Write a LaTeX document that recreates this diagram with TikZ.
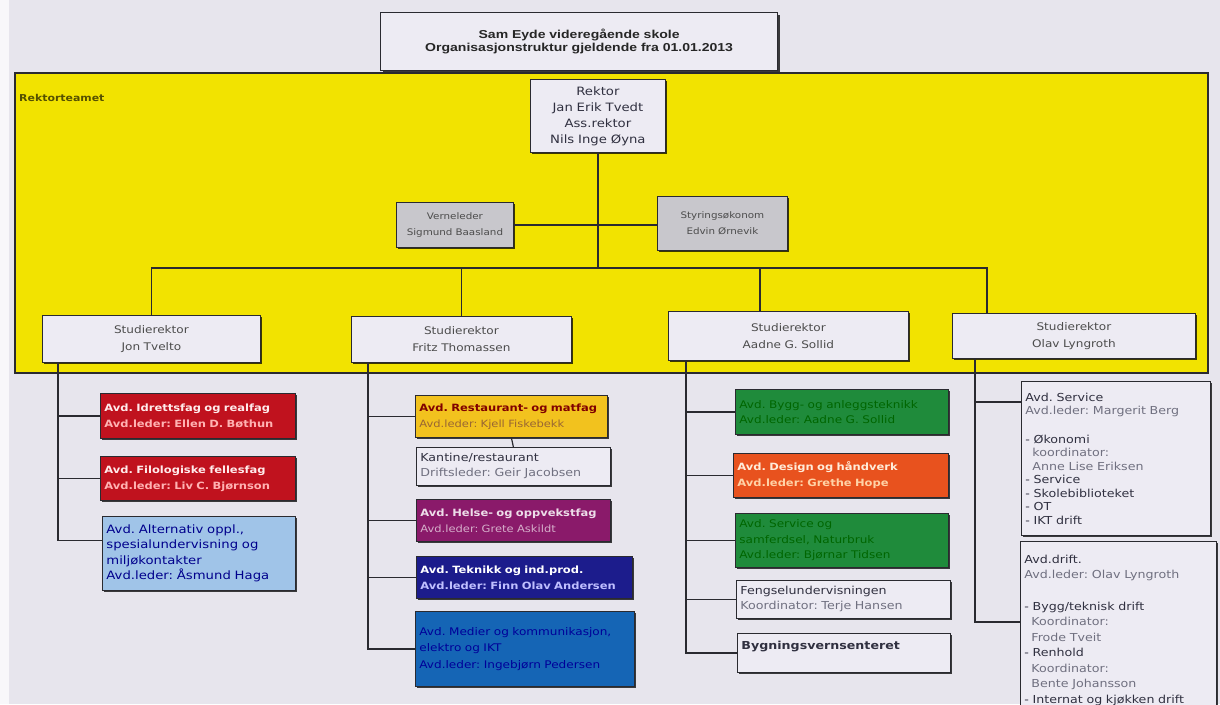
\documentclass[tikz,border=0pt]{standalone}
\usepackage{fontspec}
\setmainfont{DejaVu Sans}[FakeStretch=1.15]
\newfontfamily\titlefont{Liberation Sans}[FakeStretch=1.22]
\usetikzlibrary{shadows}
\frenchspacing
\definecolor{bgc}{HTML}{E7E5ED}
\definecolor{boxc}{HTML}{EDEBF3}
\definecolor{yel}{HTML}{F2E300}
\definecolor{grayc}{HTML}{C8C7CC}
\definecolor{redc}{HTML}{C0121E}
\definecolor{lblue}{HTML}{A0C4E8}
\definecolor{gold}{HTML}{F2C21E}
\definecolor{purp}{HTML}{8A1A6A}
\definecolor{dblue}{HTML}{1C1C8C}
\definecolor{mblue}{HTML}{1565B5}
\definecolor{greenc}{HTML}{1F8B3B}
\definecolor{orangec}{HTML}{E8521E}
\definecolor{tdark}{HTML}{303040}
\definecolor{tgray}{HTML}{707080}
\definecolor{lineb}{HTML}{2A2A30}
\begin{document}
\begin{tikzpicture}[x=1pt,y=-1pt,
  box/.style={draw=lineb, line width=0.8pt, rectangle, anchor=north west,
    inner xsep=4pt, inner ysep=2pt, align=left, fill=boxc, text=tdark,
    font=\fontsize{11}{15}\selectfont,
    drop shadow={shadow xshift=2pt, shadow yshift=-2pt, fill=black, opacity=0.75}},
  cbox/.style={box, align=center},
  colbox/.style={box, font=\bfseries\fontsize{10}{16}\selectfont},
  sr/.style={cbox, text=black!70, font=\fontsize{10.5}{17}\selectfont},
  conn/.style={draw=lineb, line width=1.2pt}]
\useasboundingbox (0,0) rectangle (1220,704);
\clip (0,0) rectangle (1220,704);
\fill[bgc] (0,0) rectangle (1220,704);
\fill[white!70!bgc] (0,0) rectangle (9,704);

% title
\node[cbox, line width=1.2pt, minimum width=397, minimum height=58, text width=389,
  font=\titlefont\bfseries\fontsize{11.5}{13}\selectfont, text=black!85] (title) at (380,12)
  {Sam Eyde videregående skole\\Organisasjonstruktur gjeldende fra 01.01.2013};

% rektorteam area
\node[draw=lineb, line width=1.5pt, fill=yel, anchor=north west, minimum width=1193,
  minimum height=300, drop shadow={shadow xshift=1.5pt, shadow yshift=-1.5pt, fill=black, opacity=0.6}] (team) at (14,72) {};
\node[anchor=west, inner sep=0pt, text=black!65!yel, font=\bfseries\fontsize{9.5}{11}\selectfont] (teamlbl) at (19,98) {Rektorteamet};

\node[cbox, minimum width=135, minimum height=73, text width=127,
  font=\fontsize{11.5}{16}\selectfont] (rektor) at (530,79)
  {Rektor\\Jan Erik Tvedt\\Ass.rektor\\Nils Inge Øyna};

\node[cbox, fill=grayc, minimum width=117, minimum height=45, text width=109, text=black!70,
  font=\fontsize{9}{16}\selectfont] (ver) at (396,202)
  {Verneleder\\Sigmund Baasland};
\node[cbox, fill=grayc, minimum width=130, minimum height=54, text width=122, text=black!70,
  font=\fontsize{9}{16}\selectfont] (sty) at (657,196)
  {Styringsøkonom\\Edvin Ørnevik};

\node[sr, minimum width=218, minimum height=47, text width=210] (jon) at (42,315)
  {Studierektor\\Jon Tvelto};
\node[sr, minimum width=220, minimum height=46, text width=212] (fritz) at (351,316)
  {Studierektor\\Fritz Thomassen};
\node[sr, minimum width=240, minimum height=49, text width=232] (aadne) at (668,311)
  {Studierektor\\Aadne G. Sollid};
\node[sr, minimum width=243, minimum height=45, text width=235] (olav) at (952,313)
  {Studierektor\\Olav Lyngroth};

% column 1
\node[colbox, fill=redc, minimum width=195, minimum height=45, text width=187] (red1) at (100,393)
  {{\color{red!8}Avd. Idrettsfag og realfag}\\{\color{red!30}Avd.leder: Ellen D. Bøthun}};
\node[colbox, fill=redc, minimum width=195, minimum height=44, text width=187] (red2) at (100,456)
  {{\color{red!8}Avd. Filologiske fellesfag}\\{\color{red!30}Avd.leder: Liv C. Bjørnson}};
\node[box, fill=lblue, minimum width=193, minimum height=74, text width=185, text=blue!55!black,
  font=\fontsize{11.5}{15.5}\selectfont] (lb) at (102,516)
  {Avd. Alternativ oppl.,\\spesialundervisning og\\miljøkontakter\\Avd.leder: Åsmund Haga};

% column 2
\node[colbox, fill=gold, minimum width=192, minimum height=42, text width=184] (gold) at (415,395)
  {{\color{red!50!black}Avd. Restaurant- og matfag}\\{\color{brown!80!black}\mdseries Avd.leder: Kjell Fiskebekk}};
\node[box, minimum width=194, minimum height=38, text width=186] (kant) at (416,447)
  {{\color{tdark}Kantine/restaurant}\\{\color{tgray}Driftsleder: Geir Jacobsen}};
\node[colbox, fill=purp, minimum width=194, minimum height=42, text width=186] (purpb) at (416,499)
  {{\color{purp!15}Avd. Helse- og oppvekstfag}\\{\color{purp!35}\mdseries Avd.leder: Grete Askildt}};
\node[colbox, fill=dblue, minimum width=216, minimum height=42, text width=208] (dbl) at (416,556)
  {{\color{white}Avd. Teknikk og ind.prod.}\\{\color{blue!25}Avd.leder: Finn Olav Andersen}};
\node[box, fill=mblue, minimum width=219, minimum height=75, text width=211, text=blue!60!black,
  font=\fontsize{10.5}{16.5}\selectfont] (mbl) at (415,611)
  {Avd. Medier og kommunikasjon,\\elektro og IKT\\Avd.leder: Ingebjørn Pedersen};

% column 3
\node[box, fill=greenc, minimum width=213, minimum height=45, text width=205, text=green!40!black,
  font=\fontsize{10.5}{15.5}\selectfont] (grn1) at (735,389)
  {Avd. Bygg- og anleggsteknikk\\Avd.leder: Aadne G. Sollid};
\node[colbox, fill=orangec, minimum width=215, minimum height=44, text width=207] (orng) at (733,453)
  {{\color{orange!15}Avd. Design og håndverk}\\{\color{orange!35}Avd.leder: Grethe Hope}};
\node[box, fill=greenc, minimum width=213, minimum height=54, text width=205, text=green!40!black,
  font=\fontsize{10.5}{15.5}\selectfont] (grn2) at (735,513)
  {Avd. Service og\\samferdsel, Naturbruk\\Avd.leder: Bjørnar Tidsen};
\node[box, minimum width=214, minimum height=38, text width=206] (feng) at (736,580)
  {{\color{tdark}Fengselundervisningen}\\{\color{tgray}Koordinator: Terje Hansen}};
\node[box, minimum width=213, minimum height=39, text width=205] (bygn) at (737,633)
  {\bfseries Bygningsvernsenteret\\\mbox{}};

% column 4
\node[box, minimum width=189, minimum height=154, text width=181,
  font=\fontsize{11}{13.5}\selectfont] (service) at (1021,381)
  {{\color{tdark}Avd. Service}\\{\color{tgray}Avd.leder: Margerit Berg}\\[15pt]
   {\color{tdark}- Økonomi}\\{\color{tgray}\hspace*{7pt}koordinator:}\\{\color{tgray}\hspace*{7pt}Anne Lise Eriksen}\\
   {\color{tdark}- Service}\\{\color{tdark}- Skolebiblioteket}\\{\color{tdark}- OT}\\{\color{tdark}- IKT drift}};
\node[box, minimum width=196, minimum height=178, text width=188,
  font=\fontsize{11}{15.5}\selectfont] (drift) at (1020,541)
  {{\color{tdark}Avd.drift.}\\{\color{tgray}Avd.leder: Olav Lyngroth}\\[16pt]
   {\color{tdark}- Bygg/teknisk drift}\\{\color{tgray}\hspace*{7pt}Koordinator:}\\{\color{tgray}\hspace*{7pt}Frode Tveit}\\
   {\color{tdark}- Renhold}\\{\color{tgray}\hspace*{7pt}Koordinator:}\\{\color{tgray}\hspace*{7pt}Bente Johansson}\\
   {\color{tdark}- Internat og kjøkken drift}};

% connectors
\coordinate (busL) at (0,268);
\coordinate (aadtop) at ([xshift=92pt]aadne.north west);
\coordinate (olavtop) at ([xshift=35pt]olav.north west);
\draw[conn] (rektor.south) -- (rektor.south |- busL);
\draw[conn] (ver.east) -- (ver.east -| sty.west);
\draw[conn] (jon.north) -- (jon.north |- busL) -- (olavtop |- busL) -- (olavtop);
\draw[conn] (fritz.north) -- (fritz.north |- busL);
\draw[conn] (aadtop) -- (aadtop |- busL);

\coordinate (c1) at ([xshift=16pt]jon.south west);
\coordinate (lbin) at ([yshift=13pt]lb.west);
\draw[conn] (c1) |- (red1.west);
\draw[conn] (c1) |- (red2.west);
\draw[conn, line width=1.8pt] (c1) |- (lbin);

\coordinate (c2) at ([xshift=17pt]fritz.south west);
\draw[conn] (c2) |- (gold.west);
\draw[conn] (c2) |- (purpb.west);
\draw[conn] (c2) |- (dbl.west);
\draw[conn] (c2) |- (mbl.west);
\draw[conn] (gold.south) -- (kant.north);

\coordinate (c3) at ([xshift=18pt]aadne.south west);
\draw[conn] (c3) |- (grn1.west);
\draw[conn] (c3) |- (orng.west);
\draw[conn] (c3) |- (grn2.west);
\draw[conn] (c3) |- (feng.west);
\draw[conn] (c3) |- (bygn.west);

\coordinate (c4) at ([xshift=23pt]olav.south west);
\coordinate (srvin) at ([yshift=-21pt]service.north west);
\coordinate (drin) at ([yshift=-81pt]drift.north west);
\draw[conn] (c4) |- (srvin);
\draw[conn] (c4) |- (drin);
\end{tikzpicture}
\end{document}
